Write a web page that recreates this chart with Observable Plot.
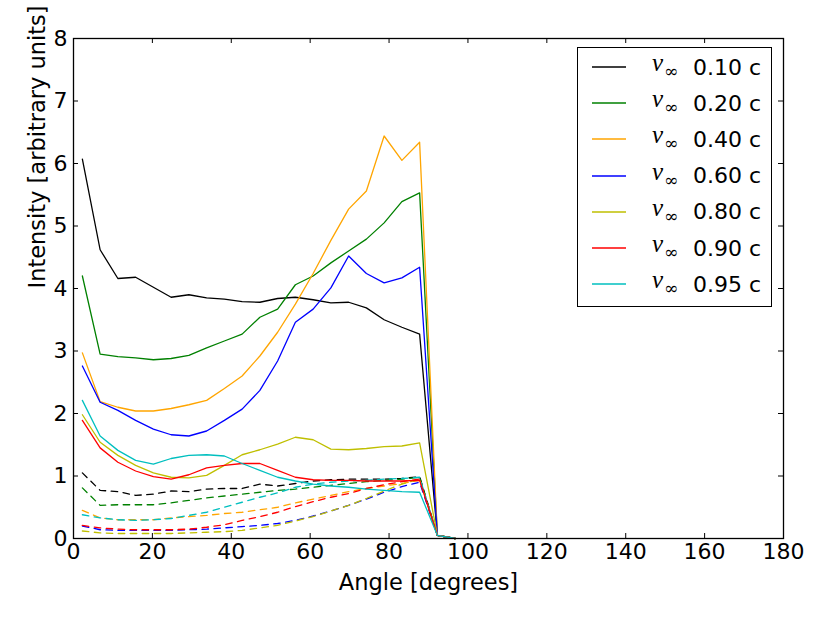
<!DOCTYPE html>
<html>
<head>
<meta charset="utf-8">
<script src="https://cdn.jsdelivr.net/npm/d3@7"></script>
<script src="https://cdn.jsdelivr.net/npm/@observablehq/plot@0.6"></script>
<style>
  html, body { margin: 0; padding: 0; background: #fff; }
  #wrap { position: relative; width: 830px; height: 623px; }
  #legend {
    position: absolute; left: 577px; top: 47px; width: 195px; height: 260px;
    border: 1.3px solid #000; background: #fff; box-sizing: border-box;
    padding-top: 1px; font-family: "DejaVu Sans", sans-serif; font-size: 22px;
  }
  .row { display: flex; align-items: center; height: 36.2px; }
  .swatch { margin-left: 14px; width: 34px; height: 6px; display: block; }
  .math { margin-left: 26px; width: 41px; font-family: "Liberation Serif", serif; font-style: italic; font-size: 25px; position: relative; top: -2px; }
  .math sub { font-family: "DejaVu Serif", serif; font-style: normal; font-size: 17px; position: relative; vertical-align: -6px; margin-left: 1px; }
  .lab { color: #000; }
</style>
</head>
<body>
<div id="wrap"></div>
<script>
// ---- data ----
const angles = [2.25, 6.75, 11.25, 15.75, 20.25, 24.75, 29.25, 33.75, 38.25, 42.75, 47.25,
                51.75, 56.25, 60.75, 65.25, 69.75, 74.25, 78.75, 83.25, 87.75, 92.25, 96.75];
const speeds = ["0.10", "0.20", "0.40", "0.60", "0.80", "0.90", "0.95"];
const colors = ["#000000", "#008000", "#ffa500", "#0000ff", "#bfbf00", "#ff0000", "#00bfbf"];

const solid010 = [6.07, 4.62, 4.16, 4.18, 4.02, 3.86, 3.90, 3.85, 3.83, 3.79, 3.78, 3.84, 3.86, 3.82, 3.77, 3.78, 3.69, 3.50, 3.38, 3.27, 0.05, 0.0];
const solid020 = [4.20, 2.95, 2.91, 2.89, 2.86, 2.88, 2.93, 3.05, 3.16, 3.27, 3.54, 3.67, 4.06, 4.20, 4.41, 4.60, 4.79, 5.05, 5.39, 5.53, 0.05, 0.0];
const solid040 = [2.97, 2.19, 2.10, 2.04, 2.04, 2.08, 2.14, 2.21, 2.40, 2.60, 2.92, 3.30, 3.75, 4.24, 4.77, 5.27, 5.56, 6.44, 6.05, 6.34, 0.05, 0.0];
const solid060 = [2.76, 2.18, 2.05, 1.89, 1.75, 1.66, 1.64, 1.72, 1.89, 2.07, 2.37, 2.84, 3.46, 3.67, 4.01, 4.52, 4.24, 4.09, 4.17, 4.34, 0.05, 0.0];
const solid080 = [1.98, 1.54, 1.33, 1.17, 1.05, 0.98, 0.97, 1.01, 1.17, 1.34, 1.42, 1.51, 1.62, 1.58, 1.43, 1.42, 1.44, 1.47, 1.48, 1.53, 0.05, 0.0];
const solid090 = [1.89, 1.45, 1.22, 1.08, 0.99, 0.95, 1.02, 1.13, 1.17, 1.20, 1.20, 1.09, 0.98, 0.94, 0.93, 0.93, 0.92, 0.92, 0.92, 0.93, 0.05, 0.0];
const solid095 = [2.21, 1.64, 1.41, 1.25, 1.19, 1.28, 1.33, 1.34, 1.32, 1.20, 1.09, 0.98, 0.92, 0.87, 0.84, 0.82, 0.79, 0.77, 0.75, 0.74, 0.05, 0.0];

const dashed010 = [1.05, 0.77, 0.75, 0.69, 0.71, 0.76, 0.75, 0.79, 0.80, 0.80, 0.87, 0.84, 0.88, 0.92, 0.94, 0.95, 0.95, 0.95, 0.96, 0.99, 0.05, 0.0];
const dashed020 = [0.81, 0.53, 0.54, 0.54, 0.54, 0.57, 0.61, 0.65, 0.68, 0.71, 0.74, 0.77, 0.79, 0.82, 0.85, 0.88, 0.91, 0.93, 0.95, 0.98, 0.05, 0.0];
const dashed040 = [0.45, 0.33, 0.30, 0.30, 0.30, 0.33, 0.35, 0.37, 0.40, 0.42, 0.46, 0.50, 0.57, 0.63, 0.69, 0.75, 0.80, 0.84, 0.88, 0.93, 0.05, 0.0];
const dashed060 = [0.20, 0.14, 0.13, 0.13, 0.13, 0.13, 0.14, 0.15, 0.17, 0.19, 0.21, 0.24, 0.29, 0.36, 0.44, 0.53, 0.63, 0.74, 0.83, 0.90, 0.05, 0.0];
const dashed080 = [0.12, 0.09, 0.08, 0.08, 0.08, 0.08, 0.09, 0.10, 0.11, 0.13, 0.17, 0.21, 0.28, 0.35, 0.44, 0.53, 0.64, 0.76, 0.87, 0.95, 0.05, 0.0];
const dashed090 = [0.21, 0.17, 0.15, 0.14, 0.14, 0.14, 0.15, 0.18, 0.22, 0.29, 0.35, 0.42, 0.51, 0.59, 0.66, 0.72, 0.80, 0.86, 0.91, 0.95, 0.05, 0.0];
const dashed095 = [0.38, 0.33, 0.30, 0.29, 0.30, 0.32, 0.37, 0.42, 0.50, 0.58, 0.66, 0.73, 0.82, 0.87, 0.90, 0.92, 0.93, 0.95, 0.96, 0.98, 0.05, 0.0];

const xTicks = [0, 20, 40, 60, 80, 100, 120, 140, 160, 180];
const yTicks = [0, 1, 2, 3, 4, 5, 6, 7, 8];
const xLabel = "Angle [degrees]";
const yLabel = "Intensity [arbitrary units]";

// ---- build tables ----
const solids = [solid010, solid020, solid040, solid060, solid080, solid090, solid095];
const dasheds = [dashed010, dashed020, dashed040, dashed060, dashed080, dashed090, dashed095];
const toRows = (series) => series.flatMap((vals, i) =>
  vals.map((v, j) => ({speed: speeds[i], angle: angles[j], value: v})));
const solidRows = toRows(solids);
const dashedRows = toRows(dasheds);

const chart = Plot.plot({
  width: 830,
  height: 623,
  marginLeft: 73,
  marginRight: 47,
  marginTop: 38,
  marginBottom: 85,
  style: {fontFamily: "DejaVu Sans, sans-serif", fontSize: "22px", color: "#000", background: "#fff"},
  x: {domain: [0, 180]},
  y: {domain: [0, 8]},
  color: {domain: speeds, range: colors},
  marks: [
    Plot.line(dashedRows, {x: "angle", y: "value", z: "speed", stroke: "speed", strokeWidth: 1.3, strokeDasharray: "6.5,5.5"}),
    Plot.line(solidRows, {x: "angle", y: "value", z: "speed", stroke: "speed", strokeWidth: 1.3}),
    // inward ticks
    Plot.tickX(xTicks, {x: d => d, insetTop: 495, stroke: "#000", strokeWidth: 1}),
    Plot.tickX(xTicks, {x: d => d, insetBottom: 495, stroke: "#000", strokeWidth: 1}),
    Plot.tickY(yTicks, {y: d => d, insetRight: 705, stroke: "#000", strokeWidth: 1}),
    Plot.tickY(yTicks, {y: d => d, insetLeft: 705, stroke: "#000", strokeWidth: 1}),
    Plot.axisX({ticks: xTicks, tickSize: 0, tickPadding: 5, tickFormat: d => String(d), label: null, fontSize: 22}),
    Plot.axisY({ticks: yTicks, tickSize: 0, tickPadding: 6, tickFormat: d => String(d), label: null, fontSize: 22}),
    Plot.text([xLabel], {text: d => d, frameAnchor: "bottom", lineAnchor: "bottom", dy: 51, fontSize: 22.5, fill: "#000"}),
    Plot.text([yLabel], {text: d => d, frameAnchor: "left", rotate: -90, lineAnchor: "bottom", dx: -29, fontSize: 22.5, fill: "#000"}),
    Plot.frame({stroke: "#000", strokeWidth: 1.3})
  ]
});

const wrap = document.getElementById("wrap");
wrap.appendChild(chart);

// ---- legend ----
const legend = document.createElement("div");
legend.id = "legend";
const svgNS = "http://www.w3.org/2000/svg";
speeds.forEach((s, i) => {
  const row = document.createElement("div");
  row.className = "row";
  const sw = document.createElementNS(svgNS, "svg");
  sw.setAttribute("class", "swatch");
  sw.setAttribute("width", "34");
  sw.setAttribute("height", "6");
  const ln = document.createElementNS(svgNS, "line");
  ln.setAttribute("x1", "0"); ln.setAttribute("x2", "34");
  ln.setAttribute("y1", "3"); ln.setAttribute("y2", "3");
  ln.setAttribute("stroke", colors[i]);
  ln.setAttribute("stroke-width", "1.4");
  sw.appendChild(ln);
  const m = document.createElement("span");
  m.className = "math";
  m.innerHTML = "v<sub>\u221E</sub>";
  const t = document.createElement("span");
  t.className = "lab";
  t.textContent = s + " c";
  row.append(sw, m, t);
  legend.appendChild(row);
});
wrap.appendChild(legend);
</script>
</body>
</html>
